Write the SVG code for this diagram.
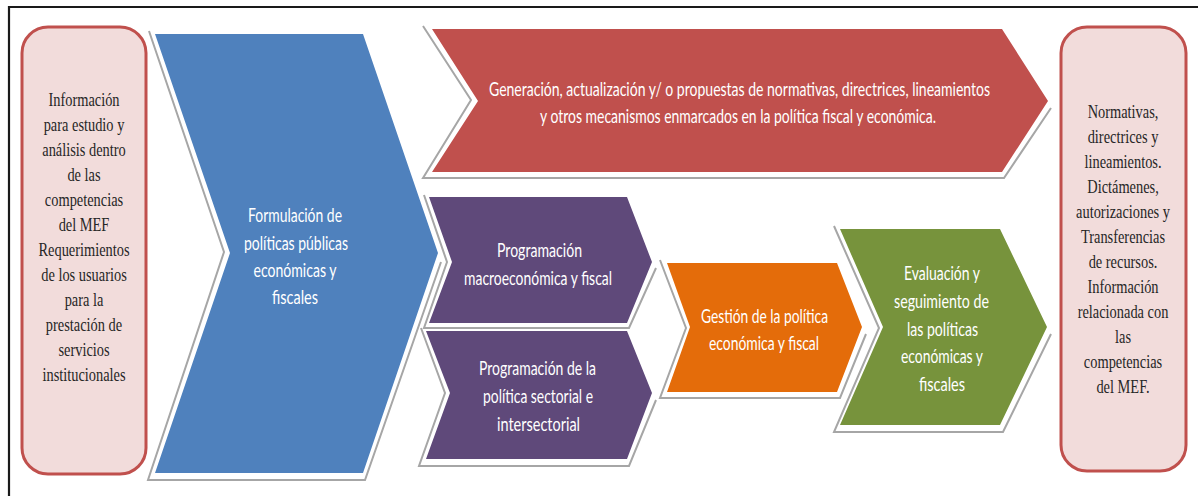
<svg xmlns="http://www.w3.org/2000/svg" width="1198" height="496" viewBox="0 0 1198 496">
<style>
.box{fill:#F2DCDB;stroke:#C0504D;stroke-width:3}
.sh{fill:none;stroke:#A6A6A6;stroke-width:2;stroke-linejoin:miter}
.ser{font-family:"Liberation Serif","Times New Roman",serif;font-size:18px;fill:#262626;text-anchor:middle}
.wt{font-family:Lato,"Open Sans",sans-serif;font-size:19.5px;fill:#FFFFFF;text-anchor:middle}
</style>
<rect width="1198" height="496" fill="#FFFFFF"/>
<path d="M9,496 V7 H1198" fill="none" stroke="#1A1A1A" stroke-width="2.2"/>

<g id="input">
<rect class="box" x="22" y="27" width="124" height="447" rx="26"/>
<g transform="translate(84,0) scale(0.8,1)">
<text class="ser" x="0" y="106">Información</text>
<text class="ser" x="0" y="131">para estudio y</text>
<text class="ser" x="0" y="156">análisis  dentro</text>
<text class="ser" x="0" y="181">de las</text>
<text class="ser" x="0" y="206">competencias</text>
<text class="ser" x="0" y="231">del MEF</text>
<text class="ser" x="0" y="256">Requerimientos</text>
<text class="ser" x="0" y="281">de los usuarios</text>
<text class="ser" x="0" y="306">para la</text>
<text class="ser" x="0" y="331">prestación de</text>
<text class="ser" x="0" y="356">servicios</text>
<text class="ser" x="0" y="381">institucionales</text>
</g>
</g>

<g id="formulacion">
<polyline class="sh" points="149,31 224,252 148,480 365,480 441,262"/>
<polygon points="155,34 363,34 438,253 363,473 155,473 230,253" fill="#4F81BD"/>
<text class="wt" x="295" y="222" textLength="94" lengthAdjust="spacingAndGlyphs">Formulación de</text>
<text class="wt" x="296" y="249.5" textLength="104" lengthAdjust="spacingAndGlyphs">políticas públicas</text>
<text class="wt" x="295" y="277" textLength="83" lengthAdjust="spacingAndGlyphs">económicas y</text>
<text class="wt" x="295" y="304" textLength="46" lengthAdjust="spacingAndGlyphs">fiscales</text>
</g>

<g id="generacion">
<polyline class="sh" points="423,26 471,100 423,178 1004,178 1051,108"/>
<polygon points="432,29 1002,29 1048,101 1002,172 432,172 478,101" fill="#C0504D"/>
<text class="wt" x="739.5" y="96" textLength="501" lengthAdjust="spacingAndGlyphs">Generación, actualización y/ o propuestas de normativas, directrices, lineamientos</text>
<text class="wt" x="738" y="123" textLength="396" lengthAdjust="spacingAndGlyphs">y otros mecanismos enmarcados en la política fiscal y económica.</text>
</g>

<g id="programacion-macro">
<polyline class="sh" points="424,195 447,262 424,328 629,328 656,268"/>
<polygon points="429,197 627,197 652,262 627,323 429,323 452,262" fill="#5F497A"/>
<text class="wt" x="539.5" y="257" textLength="85" lengthAdjust="spacingAndGlyphs">Programación</text>
<text class="wt" x="538" y="285" textLength="148" lengthAdjust="spacingAndGlyphs">macroeconómica y fiscal</text>
</g>

<g id="programacion-sectorial">
<polyline class="sh" points="421,328 445,393 419,466 629,466 656,400"/>
<polygon points="426,331 627,331 652,393 627,459 426,459 450,393" fill="#5F497A"/>
<text class="wt" x="537.5" y="375" textLength="117" lengthAdjust="spacingAndGlyphs">Programación de la</text>
<text class="wt" x="538" y="403" textLength="110" lengthAdjust="spacingAndGlyphs">política sectorial e</text>
<text class="wt" x="538.5" y="431" textLength="83" lengthAdjust="spacingAndGlyphs">intersectorial</text>
</g>

<g id="gestion">
<polyline class="sh" points="660,260 686,328 660,398 840,398 866,334"/>
<polygon points="667,263 837,263 862,327 837,392 667,392 690,327" fill="#E46C0A"/>
<text class="wt" x="764.5" y="323" textLength="127" lengthAdjust="spacingAndGlyphs">Gestión de la política</text>
<text class="wt" x="764" y="350" textLength="110" lengthAdjust="spacingAndGlyphs">económica y fiscal</text>
</g>

<g id="evaluacion">
<polyline class="sh" points="834,226 879,328 834,432 1003,432 1051,334"/>
<polygon points="840,229 1000,229 1047,327 1000,425 840,425 883,327" fill="#77933C"/>
<text class="wt" x="942" y="280" textLength="76" lengthAdjust="spacingAndGlyphs">Evaluación y</text>
<text class="wt" x="941.5" y="308" textLength="95" lengthAdjust="spacingAndGlyphs">seguimiento de</text>
<text class="wt" x="942.5" y="336" textLength="71" lengthAdjust="spacingAndGlyphs">las políticas</text>
<text class="wt" x="942" y="363" textLength="82" lengthAdjust="spacingAndGlyphs">económicas y</text>
<text class="wt" x="942" y="391" textLength="46" lengthAdjust="spacingAndGlyphs">fiscales</text>
</g>

<g id="output">
<rect class="box" x="1061" y="27" width="125" height="444" rx="26"/>
<g transform="translate(1123,0) scale(0.8,1)">
<text class="ser" x="0" y="118">Normativas,</text>
<text class="ser" x="0" y="143">directrices y</text>
<text class="ser" x="0" y="168">lineamientos.</text>
<text class="ser" x="0" y="193">Dictámenes,</text>
<text class="ser" x="0" y="218">autorizaciones y</text>
<text class="ser" x="0" y="243">Transferencias</text>
<text class="ser" x="0" y="268">de recursos.</text>
<text class="ser" x="0" y="293">Información</text>
<text class="ser" x="0" y="318">relacionada  con</text>
<text class="ser" x="0" y="343">las</text>
<text class="ser" x="0" y="368">competencias</text>
<text class="ser" x="0" y="393">del MEF.</text>
</g>
</g>

<g id="connectors"></g>
</svg>
